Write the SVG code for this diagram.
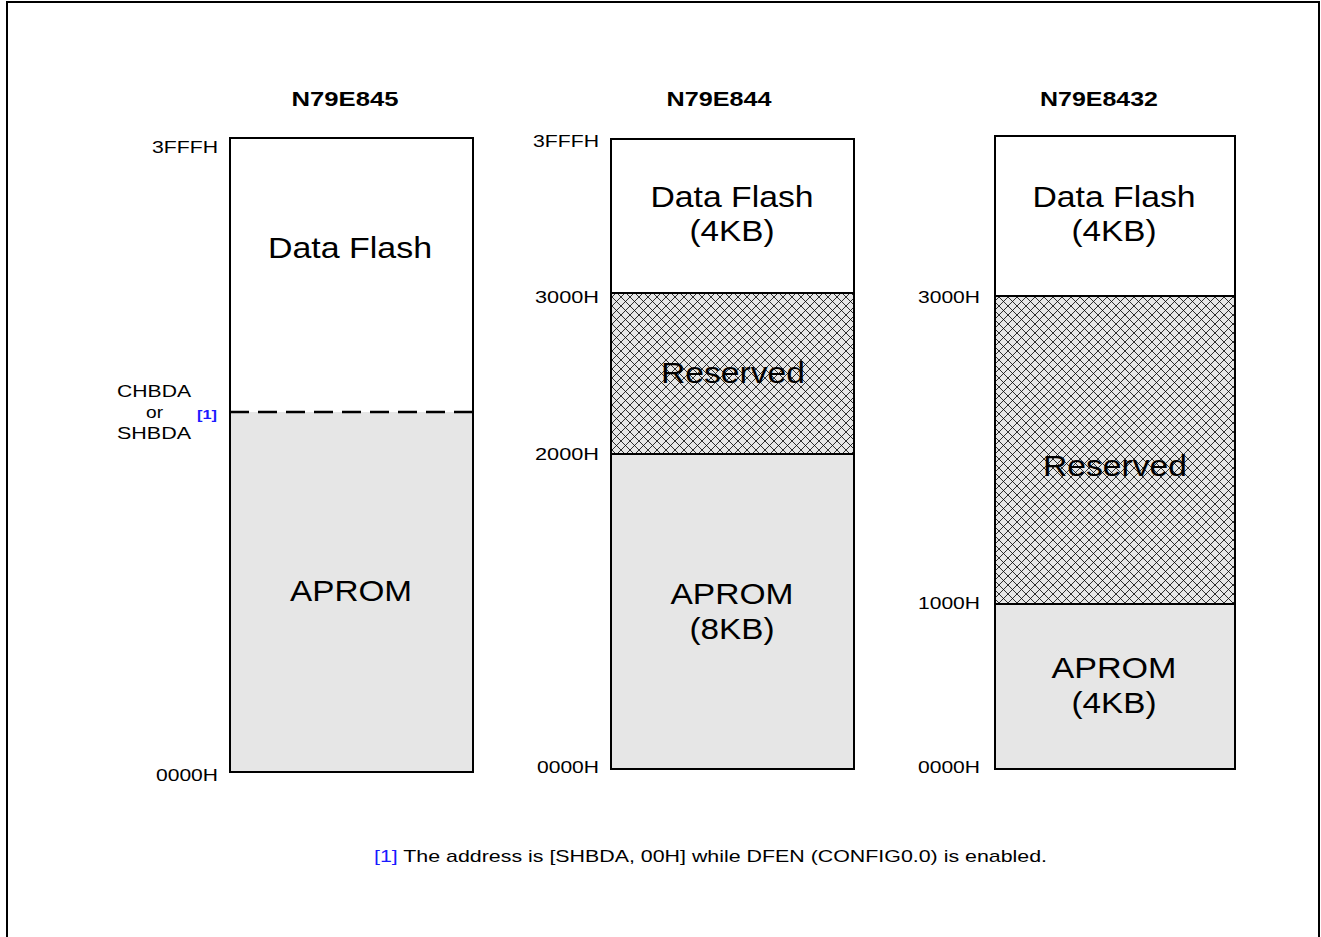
<svg xmlns="http://www.w3.org/2000/svg" width="1321" height="937" viewBox="0 0 1321 937">
<style>
text{font-family:"Liberation Sans",Arial,sans-serif;fill:#000}
.t{font-size:21px;font-weight:bold;text-anchor:middle}
.a{font-size:17px}
.b{font-size:29px;text-anchor:middle}
.box{fill:#fff;stroke:#000;stroke-width:2}
.g{fill:#e6e6e6;stroke:#000;stroke-width:2}
.h{fill:url(#hatch);stroke:#000;stroke-width:2}
.ref{fill:#1a1aff}
</style>
<defs>
<pattern id="hatch" patternUnits="userSpaceOnUse" width="9" height="9">
<rect width="9" height="9" fill="#e6e6e6"/>
<path d="M0,0 L9,9 M9,0 L0,9" stroke="#000" stroke-width="0.8"/>
</pattern>
</defs>
<rect width="1321" height="937" fill="#fff"/>
<path d="M7,937 V2 H1319 V937" fill="none" stroke="#000" stroke-width="2"/>

<g id="n79e845">
<text class="t" x="345" y="106" textLength="107" lengthAdjust="spacingAndGlyphs">N79E845</text>
<rect class="box" x="230" y="138" width="243" height="634"/>
<rect x="231" y="412" width="241" height="359" fill="#e6e6e6"/>
<line x1="230" y1="412" x2="473" y2="412" stroke="#000" stroke-width="2.5" stroke-dasharray="19,9"/>
<rect x="230" y="138" width="243" height="634" fill="none" stroke="#000" stroke-width="2"/>
<text class="b" x="350" y="258" textLength="164" lengthAdjust="spacingAndGlyphs">Data Flash</text>
<text class="b" x="351" y="601" textLength="122" lengthAdjust="spacingAndGlyphs">APROM</text>
<text class="a" x="152" y="153" textLength="66" lengthAdjust="spacingAndGlyphs">3FFFH</text>
<text class="a" x="117" y="397" textLength="74" lengthAdjust="spacingAndGlyphs">CHBDA</text>
<text class="a" x="146" y="418" textLength="17" lengthAdjust="spacingAndGlyphs">or</text>
<text class="a" x="117" y="439" textLength="74" lengthAdjust="spacingAndGlyphs">SHBDA</text>
<text class="ref" x="197" y="419" font-size="13" font-weight="bold" textLength="20" lengthAdjust="spacingAndGlyphs">[1]</text>
<text class="a" x="156" y="781" textLength="62" lengthAdjust="spacingAndGlyphs">0000H</text>
</g>

<g id="n79e844">
<text class="t" x="719" y="106" textLength="105" lengthAdjust="spacingAndGlyphs">N79E844</text>
<rect class="box" x="611" y="139" width="243" height="154"/>
<rect class="h" x="611" y="293" width="243" height="161"/>
<rect class="g" x="611" y="454" width="243" height="315"/>
<text class="b" x="732" y="207" textLength="163" lengthAdjust="spacingAndGlyphs">Data Flash</text>
<text class="b" x="732" y="241" textLength="85" lengthAdjust="spacingAndGlyphs">(4KB)</text>
<text class="b" x="733" y="383" textLength="144" lengthAdjust="spacingAndGlyphs">Reserved</text>
<text class="b" x="732" y="604" textLength="123" lengthAdjust="spacingAndGlyphs">APROM</text>
<text class="b" x="732" y="639" textLength="85" lengthAdjust="spacingAndGlyphs">(8KB)</text>
<text class="a" x="533" y="147" textLength="66" lengthAdjust="spacingAndGlyphs">3FFFH</text>
<text class="a" x="535" y="303" textLength="64" lengthAdjust="spacingAndGlyphs">3000H</text>
<text class="a" x="535" y="460" textLength="64" lengthAdjust="spacingAndGlyphs">2000H</text>
<text class="a" x="537" y="773" textLength="62" lengthAdjust="spacingAndGlyphs">0000H</text>
</g>

<g id="n79e8432">
<text class="t" x="1099" y="106" textLength="118" lengthAdjust="spacingAndGlyphs">N79E8432</text>
<rect class="box" x="995" y="136" width="240" height="160"/>
<rect class="h" x="995" y="296" width="240" height="308"/>
<rect class="g" x="995" y="604" width="240" height="165"/>
<text class="b" x="1114" y="207" textLength="163" lengthAdjust="spacingAndGlyphs">Data Flash</text>
<text class="b" x="1114" y="241" textLength="85" lengthAdjust="spacingAndGlyphs">(4KB)</text>
<text class="b" x="1115" y="476" textLength="144" lengthAdjust="spacingAndGlyphs">Reserved</text>
<text class="b" x="1114" y="678" textLength="125" lengthAdjust="spacingAndGlyphs">APROM</text>
<text class="b" x="1114" y="713" textLength="85" lengthAdjust="spacingAndGlyphs">(4KB)</text>
<text class="a" x="918" y="303" textLength="62" lengthAdjust="spacingAndGlyphs">3000H</text>
<text class="a" x="918" y="609" textLength="62" lengthAdjust="spacingAndGlyphs">1000H</text>
<text class="a" x="918" y="773" textLength="62" lengthAdjust="spacingAndGlyphs">0000H</text>
</g>

<g id="connectors"></g>

<g id="footnote">
<text class="a" x="374" y="862" textLength="673" lengthAdjust="spacingAndGlyphs"><tspan class="ref">[1]</tspan> The address is [SHBDA, 00H] while DFEN (CONFIG0.0) is enabled.</text>
</g>
</svg>
